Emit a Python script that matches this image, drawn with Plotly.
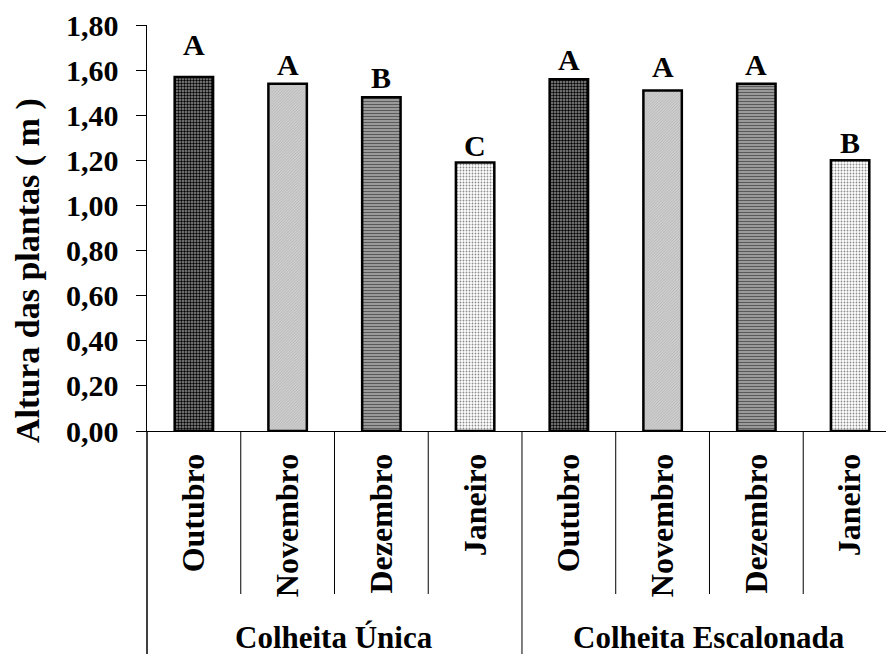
import plotly.graph_objects as go

# ---- data ----
groups = ["Colheita Única", "Colheita Escalonada"]
months = ["Outubro", "Novembro", "Dezembro", "Janeiro"]
altura_unica = [1.57, 1.54, 1.48, 1.19]
altura_escalonada = [1.56, 1.51, 1.54, 1.20]
letras_unica = ["A", "A", "B", "C"]
letras_escalonada = ["A", "A", "A", "B"]
y_ticks = [0.0, 0.2, 0.4, 0.6, 0.8, 1.0, 1.2, 1.4, 1.6, 1.8]

# ---- derived ----
values = altura_unica + altura_escalonada
letters = letras_unica + letras_escalonada
labels = months + months
xpos = list(range(len(values)))
n_m = len(months)

FONT = "Liberation Serif"

# month pattern styles (Outubro, Novembro, Dezembro, Janeiro)
pat_shape = [".", "/", "-", "."]
pat_fg = ["#000000", "#a8a8a8", "#5a5a5a", "#8c8c8c"]
pat_bg = ["#909090", "#d0d0d0", "#a8a8a8", "#ffffff"]
pat_size = [3, 2, 3, 3]
pat_sol = [0.5, 0.35, 0.45, 0.3]

fig = go.Figure()
for mi, m in enumerate(months):
    idx = [i for i in xpos if i % n_m == mi]
    fig.add_trace(go.Bar(
        x=idx, y=[values[i] for i in idx], width=0.41,
        marker=dict(
            color=pat_bg[mi],
            line=dict(color="black", width=2.5),
            pattern=dict(shape=pat_shape[mi], fgcolor=pat_fg[mi], bgcolor=pat_bg[mi],
                         size=pat_size[mi], solidity=pat_sol[mi], fillmode="replace"),
        ),
        showlegend=False, name=m, hoverinfo="skip",
    ))

letter_shift = [14, 1, 1, -1, 1, 5, 1, -1]
for i, (v, t) in enumerate(zip(values, letters)):
    fig.add_annotation(x=i, y=v, xref="x", yref="y", text=f"<b>{t}</b>",
                       showarrow=False, yanchor="bottom", yshift=letter_shift[i],
                       font=dict(family=FONT, size=30, color="black"))

# group labels
for g, name in enumerate(groups):
    fig.add_annotation(x=g * n_m + (n_m - 1) / 2, y=-0.508, xref="x", yref="paper",
                       text=f"<b>{name}</b>", showarrow=False, yanchor="middle",
                       font=dict(family=FONT, size=31, color="black"))

# y-axis title
fig.add_annotation(x=0, y=0.394, xref="paper", yref="paper", xshift=-119,
                   text="<b>Altura das plantas ( m )</b>", textangle=-90, showarrow=False,
                   xanchor="center", yanchor="middle",
                   font=dict(family=FONT, size=34, color="black"))

# separators below the axis
short_y = -0.4015
long_y = -0.56
for g in range(len(groups)):
    for k in range(1, n_m):
        xb = g * n_m + k - 0.5
        fig.add_shape(type="line", xref="x", yref="paper", x0=xb, x1=xb, y0=0, y1=short_y,
                      line=dict(color="black", width=1))
fig.add_shape(type="line", xref="x", yref="paper", x0=n_m - 0.5, x1=n_m - 0.5, y0=0, y1=long_y,
              line=dict(color="black", width=1))
fig.add_shape(type="line", xref="paper", yref="paper", x0=0, x1=0, y0=0, y1=long_y,
              line=dict(color="black", width=1.5))

fig.update_layout(
    width=886, height=654,
    margin=dict(l=147, r=0, t=25, b=223),
    plot_bgcolor="white", paper_bgcolor="white",
    separators=",.",
    hovermode=False,
    xaxis=dict(
        range=[-0.5, 7.383], tickmode="array", tickvals=xpos,
        ticktext=[f"<b>{l}</b>" for l in labels], tickangle=-90,
        tickfont=dict(family=FONT, size=32, color="black"),
        ticks="", showline=True, linecolor="black", linewidth=1,
        showgrid=False, zeroline=False, ticklabelstandoff=9,
    ),
    yaxis=dict(
        range=[0, 1.8], tickmode="array", tickvals=y_ticks, tickformat=".2f",
        tickfont=dict(family=FONT, size=30, color="black", weight="bold"),
        ticks="outside", ticklen=10, tickcolor="black", tickwidth=1,
        showline=True, linecolor="black", linewidth=1.5,
        showgrid=False, zeroline=False, ticklabelstandoff=11,
    ),
)

fig.write_html("out.html", config={"displayModeBar": False, "staticPlot": True},
               post_script="document.body.style.margin='0';document.body.style.overflow='hidden';")
